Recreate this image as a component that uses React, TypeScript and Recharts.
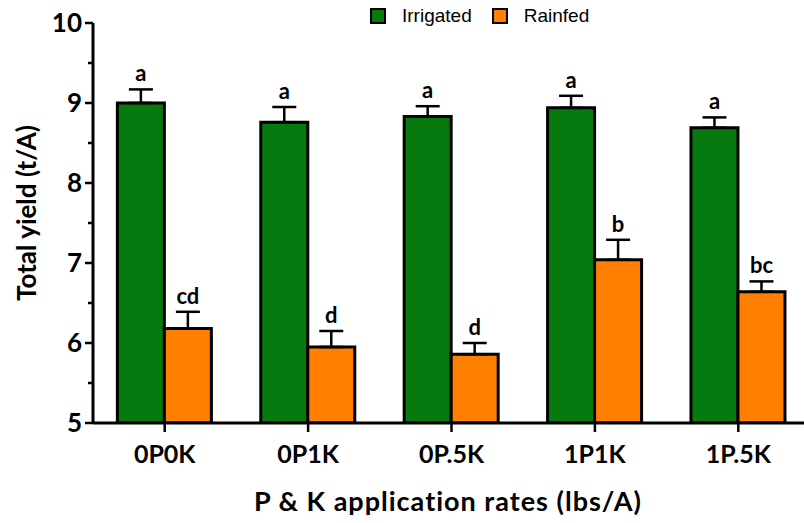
import React from "react";
import { Bar, BarChart, ErrorBar, LabelList, Legend, XAxis, YAxis } from "recharts";

const GREEN = "#067a0e";
const ORANGE = "#ff8000";
const FONT = "Lato, 'Open Sans', sans-serif";

const rates = ["0P0K", "0P1K", "0P.5K", "1P1K", "1P.5K"];
const irrigated = [9.0, 8.76, 8.83, 8.94, 8.69];
const irrigatedSe = [0.17, 0.19, 0.13, 0.15, 0.13];
const irrigatedLetters = ["a", "a", "a", "a", "a"];
const rainfed = [6.18, 5.95, 5.86, 7.04, 6.64];
const rainfedSe = [0.21, 0.2, 0.14, 0.25, 0.13];
const rainfedLetters = ["cd", "d", "d", "b", "bc"];
const yTicks = [5, 5.5, 6, 6.5, 7, 7.5, 8, 8.5, 9, 9.5, 10];

const data = rates.map((r, i) => ({
  rate: r,
  irrigated: irrigated[i],
  irrErr: [0, irrigatedSe[i]],
  rainfed: rainfed[i],
  rainErr: [0, rainfedSe[i]],
}));

const BASE = 5;

// letter sits just above the error cap; cap offset taken from the bar's own pixel scale
function letterLabel(values: number[], errs: number[], letters: string[]) {
  return (p: any) => {
    const i = p.index;
    const pxPerUnit = p.height / (values[i] - BASE);
    const capY = p.y - errs[i] * pxPerUnit;
    return (
      <text
        x={p.x + p.width / 2}
        y={capY - 8}
        textAnchor="middle"
        fontFamily={FONT}
        fontWeight={700}
        fontSize={22}
        fill="#000"
      >
        {letters[i]}
      </text>
    );
  };
}

function YTick(p: any) {
  const v = p.payload.value;
  const major = Number.isInteger(v);
  const axisX = p.x + 11;
  return (
    <g>
      <line x1={axisX - (major ? 8 : 5)} x2={axisX} y1={p.y} y2={p.y} stroke="#000" strokeWidth={2.5} />
      {major && (
        <text x={p.x} y={p.y} dy="0.36em" textAnchor="end" fontFamily={FONT} fontWeight={700} fontSize={26} fill="#000">
          {v}
        </text>
      )}
    </g>
  );
}

function LegendBox({ payload }: any) {
  return (
    <div
      style={{
        display: "flex",
        alignItems: "center",
        height: 16,
        fontFamily: "'Liberation Sans', Arial, sans-serif",
        fontSize: 19,
      }}
    >
      {(payload || []).map((e: any) => (
        <div key={e.value} style={{ display: "flex", alignItems: "center", marginRight: 20 }}>
          <span
            style={{
              display: "inline-block",
              width: 12,
              height: 12,
              background: e.color,
              border: "2px solid #000",
              marginRight: 16,
            }}
          />
          <span style={{ color: "#000", lineHeight: "16px" }}>{e.value}</span>
        </div>
      ))}
    </div>
  );
}

export default function App() {
  return (
    <div style={{ position: "absolute", left: 0, top: 0, width: 804, height: 523, overflow: "hidden", background: "#fff" }}>
      <BarChart
        width={812}
        height={523}
        data={data}
        margin={{ top: 23, right: 2, bottom: 0, left: 0 }}
        barCategoryGap="17%"
        barGap={0}
      >
        <XAxis
          dataKey="rate"
          height={100}
          axisLine={{ stroke: "#000", strokeWidth: 3 }}
          tickLine={{ stroke: "#000", strokeWidth: 2.5 }}
          tickSize={9}
          tickMargin={13}
          tick={{ fontFamily: FONT, fontWeight: 700, fontSize: 25, fill: "#000" }}
          label={{
            content: ({ viewBox }: any) => (
              <text
                x={448}
                y={viewBox.y + 88}
                textAnchor="middle"
                fontFamily={FONT}
                fontWeight={700}
                fontSize={27}
                letterSpacing={1}
                fill="#000"
              >
                P &amp; K application rates (lbs/A)
              </text>
            ),
          }}
        />
        <YAxis
          domain={[5, 10]}
          ticks={yTicks}
          interval={0}
          width={93}
          allowDataOverflow
          axisLine={{ stroke: "#000", strokeWidth: 3 }}
          tickLine={false}
          tickSize={8}
          tickMargin={3}
          tick={<YTick />}
          label={{
            content: ({ viewBox }: any) => {
              const cx = 26;
              const cy = viewBox.y + viewBox.height / 2 - 10;
              return (
                <text
                  x={cx}
                  y={cy}
                  transform={`rotate(-90 ${cx} ${cy})`}
                  textAnchor="middle"
                  dominantBaseline="central"
                  fontFamily={FONT}
                  fontWeight={700}
                  fontSize={26}
                  fill="#000"
                >
                  Total yield (t/A)
                </text>
              );
            },
          }}
        />
        <Legend
          layout="vertical"
          verticalAlign="middle"
          align="center"
          content={<LegendBox />}
          wrapperStyle={{ top: 8, left: 370, width: "auto" }}
        />
        <Bar dataKey="irrigated" name="Irrigated" fill={GREEN} stroke="#000" strokeWidth={3} isAnimationActive={false}>
          <ErrorBar dataKey="irrErr" width={12} stroke="#000" strokeWidth={2.5} isAnimationActive={false} />
          <LabelList dataKey="irrigated" content={letterLabel(irrigated, irrigatedSe, irrigatedLetters)} />
        </Bar>
        <Bar dataKey="rainfed" name="Rainfed" fill={ORANGE} stroke="#000" strokeWidth={3} isAnimationActive={false}>
          <ErrorBar dataKey="rainErr" width={12} stroke="#000" strokeWidth={2.5} isAnimationActive={false} />
          <LabelList dataKey="rainfed" content={letterLabel(rainfed, rainfedSe, rainfedLetters)} />
        </Bar>
      </BarChart>
    </div>
  );
}
